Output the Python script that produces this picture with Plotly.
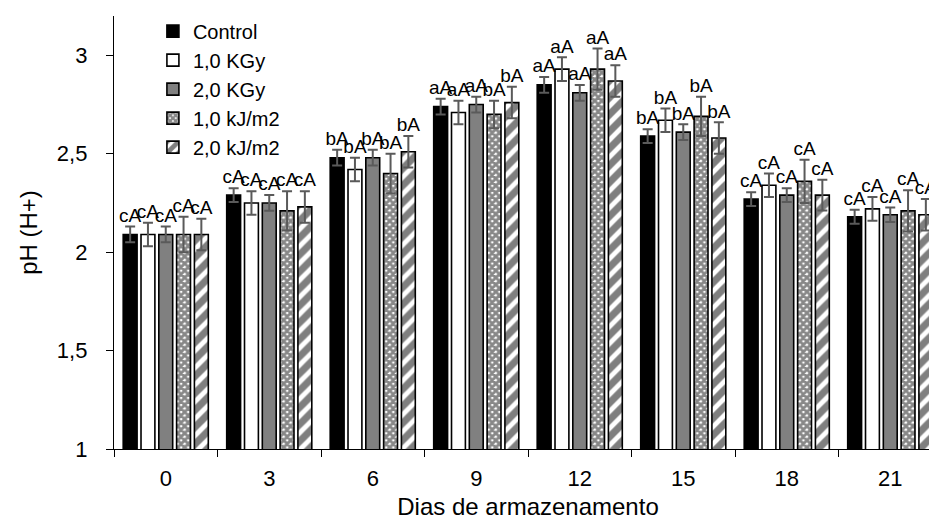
import plotly.graph_objects as go

days = ["0", "3", "6", "9", "12", "15", "18", "21"]

series_names = ["Control", "1,0 KGy", "2,0 KGy", "1,0 kJ/m2", "2,0 kJ/m2"]

control = [2.09, 2.29, 2.48, 2.74, 2.85, 2.59, 2.27, 2.18]
control_err = [0.04, 0.035, 0.04, 0.04, 0.04, 0.035, 0.035, 0.035]
control_lbl = ["cA", "cA", "bA", "aA", "aA", "bA", "cA", "cA"]

kgy1 = [2.09, 2.25, 2.42, 2.71, 2.93, 2.67, 2.34, 2.22]
kgy1_err = [0.06, 0.06, 0.06, 0.06, 0.06, 0.06, 0.06, 0.06]
kgy1_lbl = ["cA", "cA", "bA", "aA", "aA", "bA", "cA", "cA"]

kgy2 = [2.09, 2.25, 2.48, 2.75, 2.81, 2.61, 2.29, 2.19]
kgy2_err = [0.04, 0.04, 0.04, 0.04, 0.04, 0.04, 0.035, 0.037]
kgy2_lbl = ["cA", "cA", "bA", "aA", "aA", "bA", "cA", "cA"]

kj1 = [2.09, 2.21, 2.40, 2.70, 2.93, 2.69, 2.36, 2.21]
kj1_err = [0.09, 0.10, 0.10, 0.07, 0.105, 0.10, 0.11, 0.105]
kj1_lbl = ["cA", "cA", "bA", "bA", "aA", "bA", "cA", "cA"]

kj2 = [2.09, 2.23, 2.51, 2.76, 2.87, 2.58, 2.29, 2.19]
kj2_err = [0.08, 0.08, 0.08, 0.08, 0.08, 0.08, 0.078, 0.08]
kj2_lbl = ["cA", "cA", "bA", "bA", "aA", "bA", "cA", "cA"]

y_ticks = [1, 1.5, 2, 2.5, 3]

values = [control, kgy1, kgy2, kj1, kj2]
errors = [control_err, kgy1_err, kgy2_err, kj1_err, kj2_err]
labels = [control_lbl, kgy1_lbl, kgy2_lbl, kj1_lbl, kj2_lbl]

styles = [
    dict(color="black"),
    dict(color="white"),
    dict(color="#808080"),
    dict(color="white", pattern=dict(shape="x", fgcolor="#111111", bgcolor="white", size=5, solidity=0.8)),
    dict(color="white", pattern=dict(shape="/", fgcolor="black", bgcolor="white", size=12, solidity=0.6)),
]

FONT = "Liberation Sans, Arial, sans-serif"
BARGAP = 0.14
n = len(series_names)
xs = list(range(len(days)))
slot = (1 - BARGAP) / n

fig = go.Figure()
for k in range(n):
    fig.add_trace(go.Bar(
        x=xs, y=values[k], name=series_names[k],
        marker=dict(line=dict(color="black", width=1.6), **styles[k]),
        error_y=dict(type="data", array=errors[k], color="#5a5a5a", thickness=2, width=5),
    ))
for k in range(n):
    fig.add_trace(go.Scatter(
        x=[i + (k - (n - 1) / 2) * slot for i in xs],
        y=[v + e for v, e in zip(values[k], errors[k])],
        text=labels[k], mode="text", textposition="top center",
        textfont=dict(family=FONT, size=19, color="black"),
        showlegend=False, hoverinfo="skip", cliponaxis=False,
    ))

fig.update_layout(
    width=937, height=524,
    margin=dict(l=106, r=3, t=8, b=83, autoexpand=False),
    paper_bgcolor="white", plot_bgcolor="white",
    barmode="group", bargap=BARGAP, bargroupgap=0.22,
    separators=", ",
    font=dict(family=FONT, color="black", size=21),
    legend=dict(x=0.047, y=1.01, xanchor="left", yanchor="top",
                bgcolor="rgba(0,0,0,0)", font=dict(size=20, family=FONT),
                itemwidth=30, tracegroupgap=0),
    showlegend=True,
)
fig.update_xaxes(
    automargin=False,
    range=[-0.5, len(days) - 0.5],
    tickmode="array", tickvals=xs, ticktext=days,
    ticks="outside", ticklen=0, ticklabelstandoff=9,
    showline=True, linecolor="black", linewidth=1.3,
    showgrid=False, zeroline=False,
    tickfont=dict(size=22, family=FONT),
    minor=dict(tickmode="array", tickvals=[i - 0.5 for i in range(len(days) + 1)],
               ticks="outside", ticklen=7, tickcolor="black", tickwidth=1.3, showgrid=False),
    title=dict(text="Dias de armazenamento", font=dict(size=24, family=FONT), standoff=8),
)
fig.update_yaxes(
    automargin=False,
    range=[1, 3.2], tickmode="array", tickvals=y_ticks,
    ticks="outside", ticklen=7, tickcolor="black", tickwidth=1.3,
    ticklabelstandoff=14,
    showline=True, linecolor="black", linewidth=1.3,
    showgrid=False, zeroline=False,
    tickfont=dict(size=22, family=FONT),
    title=dict(text="pH (H+)", font=dict(size=24, family=FONT), standoff=12),
)

fig.write_html("out.html")
